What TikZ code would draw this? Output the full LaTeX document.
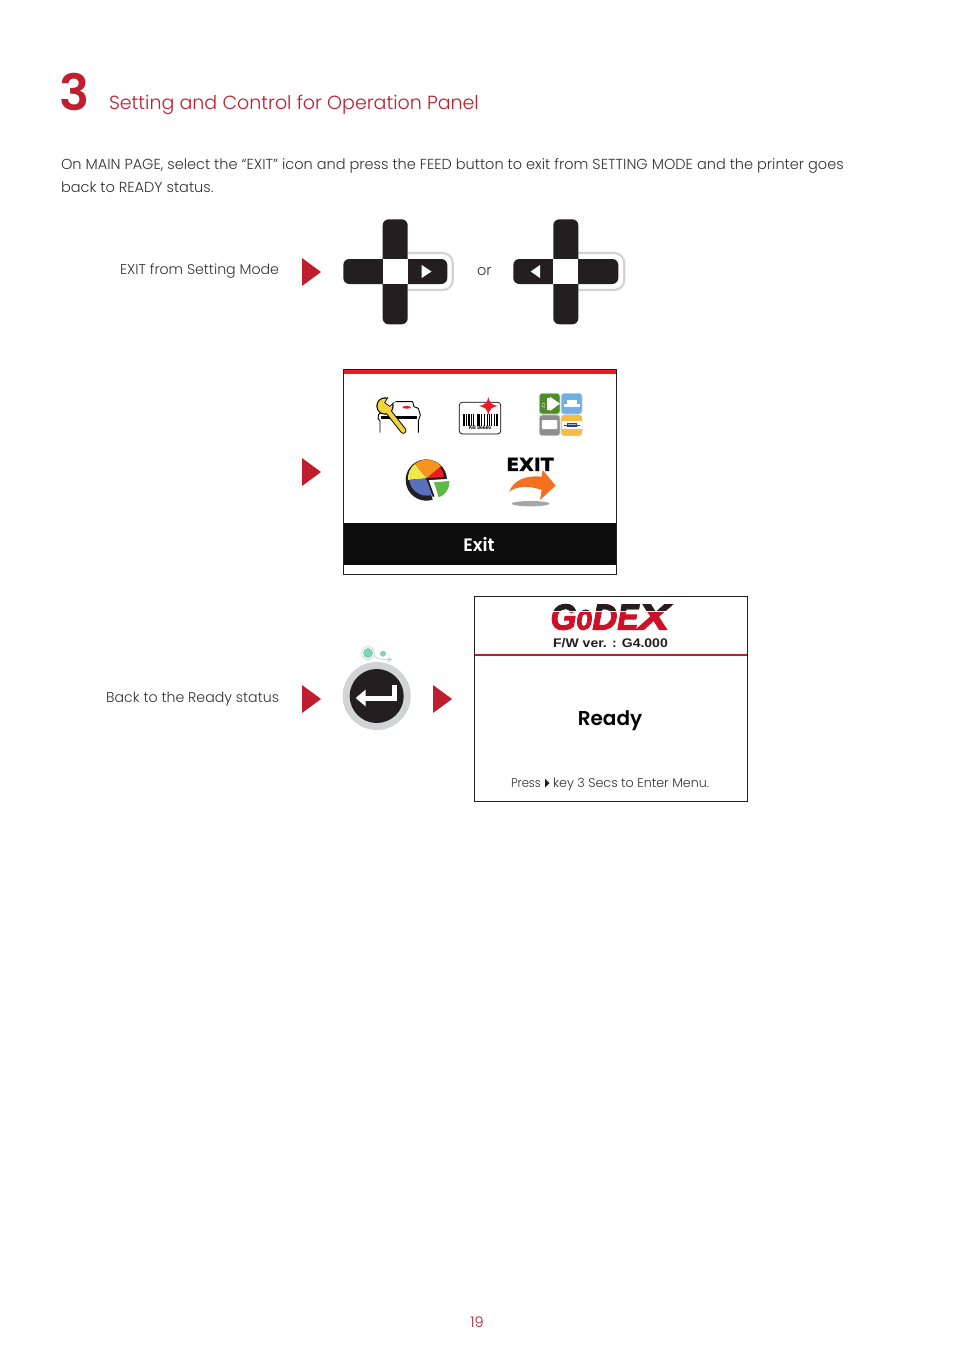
\documentclass[tikz,border=0pt]{standalone}
\usepackage{fontspec}
\usepackage{graphicx}
\setmainfont{Poppins Light}
\newfontfamily\popb{Poppins SemiBold}
\newfontfamily\arialf{Liberation Sans}
\newfontfamily\logof[BoldItalicFeatures={FakeBold=3}]{Liberation Sans}
\newfontfamily\dejab[BoldFeatures={FakeBold=1.5}]{DejaVu Sans}
\usetikzlibrary{calc}
\definecolor{gxred}{HTML}{BE1E2D}
\definecolor{gxlogo}{HTML}{CE1126}
\definecolor{gxdark}{HTML}{231F20}
\definecolor{gxgray}{HTML}{D1D3D4}
\definecolor{gxtxt}{HTML}{333132}
\definecolor{gxteal}{HTML}{7ED3B8}
\definecolor{gxyel}{HTML}{F2D33C}
\definecolor{gxyel2}{HTML}{EFE84A}
\definecolor{gxorange}{HTML}{F7941E}
\definecolor{gxbright}{HTML}{ED1C24}
\definecolor{gxblue}{HTML}{5B6FC0}
\definecolor{gxgreen}{HTML}{5DB846}
\definecolor{gxarrow}{HTML}{F37021}
\definecolor{tilegreen}{HTML}{4C8C2B}
\definecolor{tileblue}{HTML}{6CB0E4}
\definecolor{tilegray}{HTML}{8E8E8E}
\definecolor{tileyel}{HTML}{F6BC42}
\definecolor{tilenavy}{HTML}{2B3A8C}
\tikzset{
 x=1pt,y=-1pt,
 lbl/.style={inner sep=0pt,outer sep=0pt,anchor=base west,text=gxtxt,font=\fontsize{14.52}{18}\selectfont},
 lble/.style={lbl,anchor=base east,font=\fontsize{14.15}{18}\selectfont},
 redtri/.style={fill=gxred,draw=none},
 padbar/.style={fill=gxdark,draw=none,rounded corners=6pt},
 padring/.style={draw=gxgray,line width=2.2pt,rounded corners=10pt},
 screen/.style={draw=gxdark,line width=0.8pt,fill=white},
 tile/.style={rounded corners=3pt,draw=gray!45,line width=0.6pt},
 logofont/.style={inner sep=0pt,anchor=base,font=\logof\bfseries\itshape\fontsize{36}{36}\selectfont},
 zoomA/.style={shift={(340,365)},x=0.3333pt,y=-0.3333pt}
}
\newcommand{\redarrow}[2]{\fill[redtri] (#1,#2-14) -- (#1+19,#2) -- (#1,#2+14) -- cycle;}
\newcommand{\gxword}{\scalebox{0.93}[1]{G}\scalebox{0.72}[1]{o}\scalebox{0.96}[1]{D}\scalebox{0.88}[1]{E}\scalebox{1.29}[1]{X}}
\begin{document}
\begin{tikzpicture}
\useasboundingbox (0,0) rectangle (954,1350);
\fill[white] (0,0) rectangle (954,1350);
% heading
\node[inner sep=0pt,anchor=base west,text=gxred,font=\popb\fontsize{50}{50}\selectfont] (num) at (59.5,110) {3};
\node[lbl,text=gxred,font=\fontsize{19}{24}\selectfont] (title) at (109,109) {Setting and Control for Operation Panel};
\node[lbl] (p1) at (61,169) {On MAIN PAGE, select the “EXIT” icon and press the FEED button to exit from SETTING MODE and the printer goes};
\node[lbl] (p2) at (61,192) {back to READY status.};
\node[lble] (exitlbl) at (279,274) {EXIT from Setting Mode};
\node[lbl] (orlbl) at (477,275) {or};
\node[lble] (backlbl) at (279,702) {Back to the Ready status};
\node[lbl,text=gxred,anchor=base] (pg) at (477,1327) {19};
% red arrows
\redarrow{302}{272}
\redarrow{302}{472}
\redarrow{302}{699}
\redarrow{433}{699}
% pad 1
\draw[padring] (400,253) -- (452.7,253) -- (452.7,290) -- (400,290);
\fill[padbar] (382.7,219.3) rectangle (407.7,324.3);
\fill[padbar] (343.3,259) rectangle (447.3,284);
\fill[white] (382.7,259) rectangle (407.7,284);
\fill[white] (421.7,265) -- (431.5,271.5) -- (421.7,278) -- cycle;
% pad 2
\draw[padring] (570,253) -- (624.3,253) -- (624.3,290) -- (570,290);
\fill[padbar] (553.3,219.3) rectangle (578.3,324.3);
\fill[padbar] (513.3,259) rectangle (618.3,284);
\fill[white] (553.3,259) rectangle (578.3,284);
\fill[white] (540,265) -- (530.7,271.5) -- (540,278) -- cycle;
% screen 1
\draw[screen] (343.5,369.5) rectangle (616.5,574.5);
\fill[gxbright] (344,369.8) rectangle (616,374);
\fill[black!95] (344,523) rectangle (616,565);
\node[inner sep=0pt,text=white,font=\popb\fontsize{18}{20}\selectfont] (exitbar) at (479,544.5) {Exit};
\begin{scope}[zoomA]
 % wrench printer icon
 \draw[black,line width=0.9pt,line join=round] (120,203) -- (120,168) -- (114,160) -- (116,148) -- (140,132) (165,110) -- (218,110) -- (222,125) -- (235,130) -- (241,150) -- (235,168) -- (235,203);
 \draw[black,line width=2.5pt] (122,157) -- (232,157);
 \fill[gxbright] (200,127) ellipse[x radius=13,y radius=4];
 \draw[black,line width=6.3pt,line cap=round] (140,133) -- (190,197);
 \fill[black] (135,123) circle[radius=26];
 \draw[gxyel,line width=4.4pt,line cap=round] (140,133) -- (190,197);
 \fill[gxyel] (135,123) circle[radius=22.5];
 \fill[white] (134,113) -- (146,92) -- (168,108) -- (149,124) -- cycle;
 \draw[black,line width=0.7pt] (144,97) -- (134,113) -- (149,124) -- (163,112);
 % barcode icon
 \draw[black,line width=0.7pt,rounded corners=3pt] (358,112) rectangle (482,207);
 \foreach \bx/\bw in {370/4,377/2,384/5,394/2,400/3,410/2,415/4,424/2,431/5,441/3,448/2,454/3,463/2,469/4}
   \fill[black] (\bx,147) rectangle (\bx+\bw,182);
 \fill[gxbright] (445,96) .. controls (448,113) and (455,120) .. (473,123) .. controls (455,126) and (448,133) .. (445,150) .. controls (442,133) and (435,126) .. (417,123) .. controls (435,120) and (442,113) .. (445,96) -- cycle;
 \node[inner sep=0pt,text=black,font=\arialf\bfseries\fontsize{5}{5}\selectfont] (barcodetxt) at (420,189) {AB 86666};
 % grid icons
 \filldraw[fill=tilegreen,tile] (598,85) rectangle (660,147);
 \fill[white] (630,95) -- (660,116) -- (630,138) -- cycle;
 \fill[white] (621,99) rectangle (630,134);
 \node[inner sep=0pt,text=white,font=\dejab\fontsize{6}{6}\selectfont] (note) at (610,122) {♫};
 \filldraw[fill=tileblue,tile] (664,85) rectangle (726,147);
 \fill[white] (680,106) rectangle (712,116);
 \fill[white] (672,117) rectangle (720,127);
 \filldraw[fill=tilegray,tile] (598,150) rectangle (660,212);
 \fill[white,rounded corners=1pt] (606,165) rectangle (652,192);
 \filldraw[fill=tileyel,tile] (664,150) rectangle (726,212);
 \fill[white] (665,167) rectangle (725,193);
 \fill[tilenavy] (680,173) rectangle (712,187);
 \fill[tilenavy] (671,179) rectangle (721,182);
 \fill[white,opacity=0.6] (684,177) rectangle (708,179);
 % pie
 \fill[gxdark] (259,345) -- ([shift={(72:62)}]259,345) arc[start angle=72,end angle=357,radius=62] -- cycle;
 \fill[gxyel2] (260,340) -- ([shift={(175:56)}]260,340) arc[start angle=175,end angle=231,radius=56] -- cycle;
 \fill[gxorange] (260,340) -- ([shift={(231:56)}]260,340) arc[start angle=231,end angle=320,radius=56] -- cycle;
 \fill[gxbright] (260,340) -- ([shift={(320:52)}]260,340) arc[start angle=320,end angle=357,radius=52] -- cycle;
 \fill[gxblue] (260,340) -- ([shift={(72:52)}]260,340) arc[start angle=72,end angle=175,radius=52] -- cycle;
 \draw[gxdark,line width=1.8pt] (258,342) -- (315,339) (262,342) -- (281,395);
 \fill[gxgreen] (282,352) -- (328,348) arc[start angle=-5,end angle=70,radius=48] -- cycle;
 % exit
 \node[inner sep=0pt,anchor=base,text=black,font=\dejab\bfseries\fontsize{18}{18}\selectfont] (exitword) at (570,318) {\scalebox{1.05}[1]{EXIT}};
 \fill[gray!70] (572,416) ellipse[x radius=57,y radius=8];
 \fill[gxarrow] (508,380) .. controls (520,345) and (560,330) .. (605,335) -- (608,315) -- (647,362) -- (600,405) -- (605,375) .. controls (570,362) and (530,362) .. (508,380) -- cycle;
\end{scope}
% screen 2
\draw[screen] (474.5,596.5) rectangle (747.5,801.5);
\draw[gxred,line width=1.2pt] (475,655) -- (747,655);
\node[logofont,text=gxlogo] (logo) at (610,629.5) {\gxword};
\begin{scope}
 \clip (540,598) rectangle (680,611);
 \node[logofont,text=gxdark] (logotop) at (610,629.5) {\gxword};
\end{scope}
\fill[white] (545,611) rectangle (680,612.4);
\node[inner sep=0pt,anchor=base,text=gxdark,font=\arialf\bfseries\fontsize{12.5}{14}\selectfont] (fw) at (610.5,647) {\scalebox{1.12}[1]{F/W ver. : G4.000}};
\node[inner sep=0pt,anchor=base,text=black,font=\popb\fontsize{20}{24}\selectfont] (ready) at (610,725) {Ready};
\node[lbl,font=\fontsize{12.7}{15}\selectfont] (press1) at (511,787) {\scalebox{0.915}[1]{Press}};
\fill[gxdark] (545,778.5) -- (549.5,783) -- (545,787.5) -- cycle;
\node[lbl,font=\fontsize{12.7}{15}\selectfont] (press2) at (553,787) {key 3 Secs to Enter Menu.};
% enter button
\fill[gxgray] (376.7,696) circle[radius=34];
\fill[gxdark] (376.7,696) circle[radius=27];
\draw[white,line width=5pt] (394.3,685) -- (394.3,698) -- (365,698);
\fill[white] (355.7,698) -- (365.7,689.5) -- (365.7,706.5) -- cycle;
\draw[gxgray,line width=0.7pt] (368,653) circle[radius=6.5];
\fill[gxteal] (368,653) circle[radius=5];
\fill[gxteal] (383,653.7) circle[radius=3];
\draw[gxgray,line width=0.7pt] (374,655) .. controls (377,660) and (382,659.5) .. (391,659.5);
\fill[gxgray] (388,657) -- (392.5,659.5) -- (388,662) -- cycle;
\end{tikzpicture}
\end{document}
